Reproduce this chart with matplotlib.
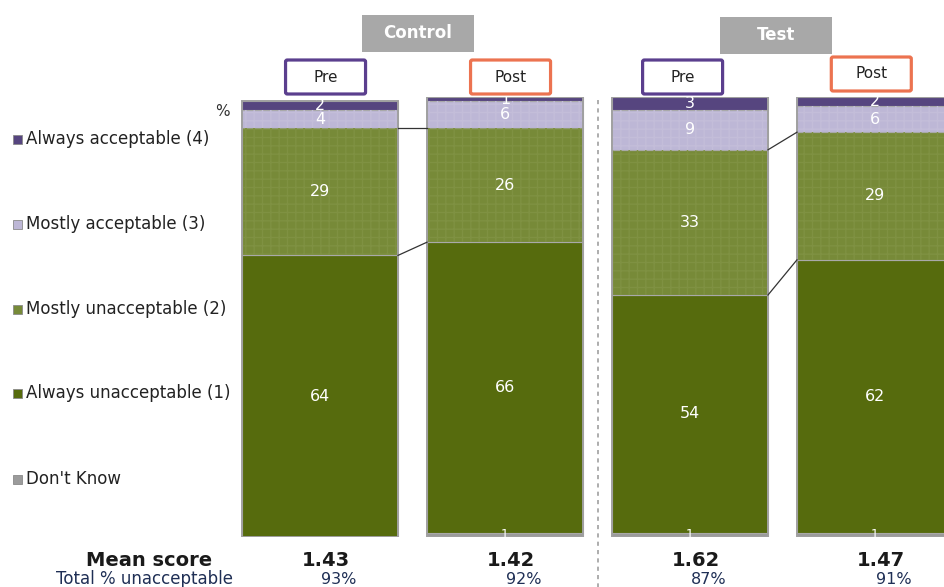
import matplotlib
matplotlib.use("Agg")
import matplotlib.pyplot as plt
from matplotlib.patches import Rectangle, FancyBboxPatch
from matplotlib.transforms import blended_transform_factory
import numpy as np

plt.rcParams["font.family"] = ["DejaVu Sans"]

# ---- data -------------------------------------------------------------
groups = ["Control", "Test"]
phases = ["Pre", "Post", "Pre", "Post"]
dont_know = [0, 1, 1, 1]
always_unacceptable = [64, 66, 54, 62]
mostly_unacceptable = [29, 26, 33, 29]
mostly_acceptable = [4, 6, 9, 6]
always_acceptable = [2, 1, 3, 2]
mean_scores = [1.43, 1.42, 1.62, 1.47]
total_unacceptable = [93, 92, 87, 91]

legend_labels = ["Always acceptable (4)", "Mostly acceptable (3)",
                 "Mostly unacceptable (2)", "Always unacceptable (1)",
                 "Don't Know"]

# ---- styling ----------------------------------------------------------
c_always_acc = "#56457f"
c_mostly_acc = "#bdb7d6"
c_mostly_unacc = "#778a38"
c_always_unacc = "#566b0d"
c_dk = "#9b9b9b"
c_pre = "#5b3f8e"
c_post = "#ec7350"
c_header = "#a8a8a8"

W, H = 944, 587
fig = plt.figure(figsize=(W / 100, H / 100), dpi=100)


def fx(x):
    return x / W


def fy(y):
    return 1 - y / H


ax = fig.add_axes([fx(227.5), fy(537), 740 / W, 440 / H])
ax.set_xlim(-0.5, 3.5)
ax.set_ylim(0, 100)
ax.axis("off")

x = np.arange(len(phases))
width = 156 / 185

stack = [
    (dont_know, c_dk, None),
    (always_unacceptable, c_always_unacc, None),
    (mostly_unacceptable, c_mostly_unacc, "#7f9142"),
    (mostly_acceptable, c_mostly_acc, "#c3bdd9"),
    (always_acceptable, c_always_acc, None),
]

bottom = np.zeros(len(x))
boundaries = []
for vals, col, hatch_col in stack:
    vals = np.array(vals, dtype=float)
    ax.bar(x, vals, width, bottom=bottom, color=col, edgecolor="#a9a9a9",
           linewidth=0.8, zorder=2)
    if hatch_col is not None:
        ax.bar(x, vals, width, bottom=bottom, fill=False, hatch="++",
               edgecolor=hatch_col, linewidth=0, zorder=2.5)
    for xi, v, b in zip(x, vals, bottom):
        if v > 0:
            fs = 9 if col == c_dk else 11.5
            yy = b + v / 2
            if col == c_dk:
                yy = b + 0.6
            ax.text(xi, yy, f"{int(v)}", ha="center", va="center",
                    color="white", fontsize=fs, zorder=4)
    bottom = bottom + vals
    boundaries.append(bottom.copy())

# outer gray frame around each bar
ax.bar(x, bottom, width, fill=False, edgecolor="#a0a0a0", linewidth=1.4,
       zorder=3)

# connector lines between Pre and Post within each group
for pre, post in [(0, 1), (2, 3)]:
    for level in (boundaries[1], boundaries[2]):
        ax.plot([pre + width / 2, post - width / 2], [level[pre], level[post]],
                color="#333333", linewidth=0.9, zorder=3)

# dashed divider between the groups
blend_xfig = blended_transform_factory(ax.transData, fig.transFigure)
ax.plot([1.5, 1.5], [fy(100), fy(590)], transform=blend_xfig,
        color="#a0a0a0", linestyle=(0, (2.5, 2.5)), linewidth=1.2,
        clip_on=False)

# group headers
for gi, g in enumerate(groups):
    cx = 2 * gi + 0.5 + (0.03 if gi == 0 else -0.035)
    y_top = 15 if gi == 0 else 17
    bw = 112 / 185
    fig.patches.append(Rectangle((cx - bw / 2, fy(y_top + 37)),
                                 bw, 37 / H, transform=blend_xfig,
                                 facecolor=c_header, edgecolor="none"))
    fig.text(cx, fy(y_top + 18.5), g,
             transform=blend_xfig, ha="center", va="center", color="white",
             fontsize=12, fontweight="bold")

# Pre / Post labels
for xi, ph in enumerate(phases):
    col = c_pre if ph == "Pre" else c_post
    offs = [0.03, 0.03, -0.04, -0.02][xi]
    ytop = 57 if xi == 3 else 60
    bw = 80 / 185
    fig.patches.append(FancyBboxPatch((xi + offs - bw / 2, fy(ytop + 34)),
                                      bw, 34 / H, transform=blend_xfig,
                                      boxstyle="round,pad=0,rounding_size=0.01",
                                      facecolor="white", edgecolor=col,
                                      linewidth=2.3, mutation_aspect=0.3))
    fig.text(xi + offs, fy(ytop + 17), ph, transform=blend_xfig,
             ha="center", va="center", color="#222222", fontsize=11)

# percent sign
fig.text(fx(222), fy(112), "%", ha="center", va="center",
         color="#333333", fontsize=11)

# legend down the left side
legend_colors = [c_always_acc, c_mostly_acc, c_mostly_unacc, c_always_unacc, c_dk]
legend_y = [139, 224, 309, 393, 479]
for lab, col, ly in zip(legend_labels, legend_colors, legend_y):
    fig.patches.append(Rectangle((fx(13), fy(ly + 4.5)), 9 / W, 9 / H,
                                 transform=fig.transFigure, facecolor=col,
                                 edgecolor="#8a8a8a", linewidth=0.6))
    fig.text(fx(26), fy(ly), lab, ha="left", va="center",
             color="#222222", fontsize=12)

# summary rows
fig.text(fx(149), fy(560), "Mean score", ha="center", va="center",
         fontsize=14, fontweight="bold", color="#1a1a1a")
fig.text(fx(145), fy(579), "Total % unacceptable", ha="center",
         va="center", fontsize=12, color="#1f2f55")
for xi, (m, t) in enumerate(zip(mean_scores, total_unacceptable)):
    fig.text(xi + 0.03, fy(560), f"{m:.2f}", transform=blend_xfig,
             ha="center", va="center", fontsize=14, fontweight="bold",
             color="#1a1a1a")
    fig.text(xi + 0.1, fy(579), f"{t}%", transform=blend_xfig,
             ha="center", va="center", fontsize=11.5, color="#1f2f55")

fig.savefig("out.png", dpi=100)
